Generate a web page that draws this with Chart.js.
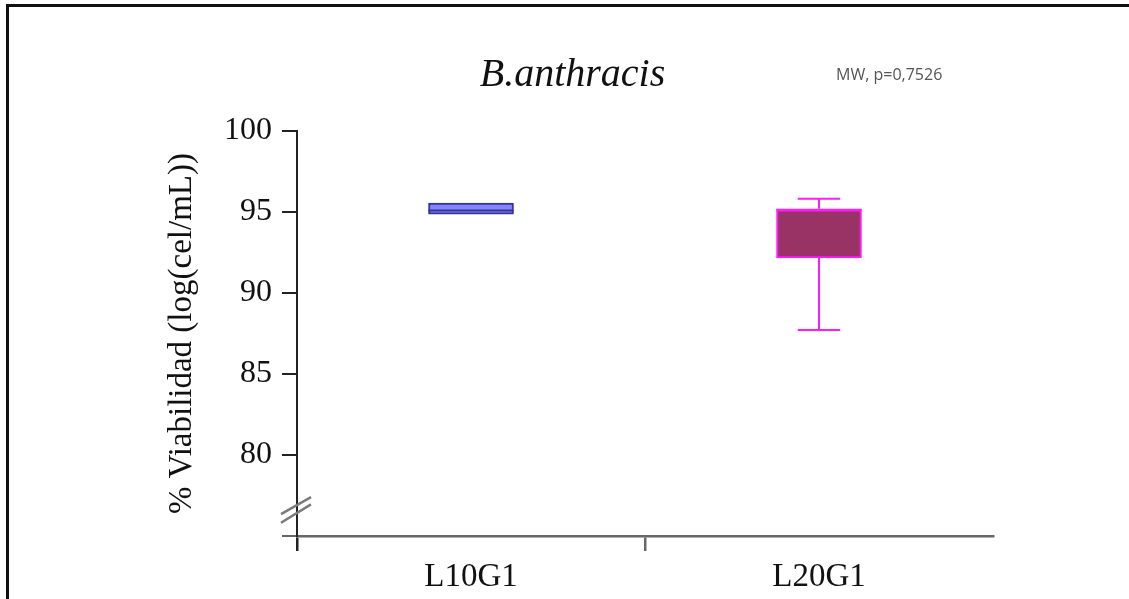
<!DOCTYPE html>
<html>
<head>
<meta charset="utf-8">
<title>B.anthracis</title>
<script src="https://cdn.jsdelivr.net/npm/chart.js@4.4.1/dist/chart.umd.min.js"></script>
<style>
  html, body { margin: 0; padding: 0; background: #fff; overflow: hidden; }
  #frame {
    position: absolute; left: 6px; top: 4px; right: -10px; bottom: -10px;
    border-top: 3px solid #111; border-left: 3px solid #111;
  }
  #wrap { position: absolute; left: 0; top: 0; width: 1129px; height: 599px; }
</style>
</head>
<body>
<div id="frame"></div>
<div id="wrap"><canvas id="boxChart"></canvas></div>
<script>
// groups and box statistics (% viability)
const groups = ['L10G1', 'L20G1'];
const boxMin = [94.86, 87.72];
const boxQ1 = [94.86, 92.16];
const boxMedian = [95.09, 95.10];
const boxQ3 = [95.55, 95.20];
const boxMax = [95.55, 95.82];
const yTicks = [80, 85, 90, 95, 100];
const titleText = 'B.anthracis';
const statText = 'MW, p=0,7526';

const boxFill = ['#8585f7', '#993366'];
const boxEdge = ['#34349e', '#ff1aff'];

const serif = '"Liberation Serif", "Times New Roman", serif';

// whiskers, caps and median lines on top of the floating bars
const whiskerPlugin = {
    id: 'whiskers',
    afterDatasetsDraw(chart) {
        const y = chart.scales.y;
        const meta = chart.getDatasetMeta(0);
        const ctx = chart.ctx;
        ctx.save();
        meta.data.forEach((bar, i) => {
            const half = bar.width / 2;
            const cap = bar.width / 4;
            ctx.strokeStyle = boxEdge[i];
            ctx.lineWidth = 2;
            ctx.beginPath();
            if (boxMax[i] > boxQ3[i]) {
                ctx.moveTo(bar.x, y.getPixelForValue(boxQ3[i]));
                ctx.lineTo(bar.x, y.getPixelForValue(boxMax[i]));
                ctx.moveTo(bar.x - cap, y.getPixelForValue(boxMax[i]));
                ctx.lineTo(bar.x + cap, y.getPixelForValue(boxMax[i]));
            }
            if (boxMin[i] < boxQ1[i]) {
                ctx.moveTo(bar.x, y.getPixelForValue(boxQ1[i]));
                ctx.lineTo(bar.x, y.getPixelForValue(boxMin[i]));
                ctx.moveTo(bar.x - cap, y.getPixelForValue(boxMin[i]));
                ctx.lineTo(bar.x + cap, y.getPixelForValue(boxMin[i]));
            }
            // median
            ctx.moveTo(bar.x - half, y.getPixelForValue(boxMedian[i]));
            ctx.lineTo(bar.x + half, y.getPixelForValue(boxMedian[i]));
            ctx.stroke();
        });
        ctx.restore();
    }
};

// title, test label and the axis break marks
const decorPlugin = {
    id: 'decor',
    afterDraw(chart) {
        const ctx = chart.ctx;
        const y = chart.scales.y;
        const area = chart.chartArea;
        ctx.save();

        ctx.fillStyle = '#111';
        ctx.font = 'italic 40px ' + serif;
        ctx.textAlign = 'center';
        ctx.textBaseline = 'alphabetic';
        ctx.fillText(titleText, chart.width / 2 + 8, 86);

        ctx.fillStyle = '#555';
        ctx.font = '16px "Open Sans", sans-serif';
        ctx.textAlign = 'left';
        ctx.textBaseline = 'middle';
        ctx.fillText(statText, 836, 75);

        // break on the y axis
        const ax = area.left;
        const yb = y.getPixelForValue(76.6);
        ctx.strokeStyle = '#7a7a7a';
        ctx.lineWidth = 2.5;
        ctx.beginPath();
        ctx.moveTo(ax - 16, yb + 4);
        ctx.lineTo(ax + 14, yb - 13);
        ctx.moveTo(ax - 16, yb + 12.7);
        ctx.lineTo(ax + 14, yb - 5.7);
        ctx.stroke();
        ctx.restore();
    }
};

const boxData = groups.map((g, i) => [boxQ1[i], boxQ3[i]]);

new Chart(document.getElementById('boxChart'), {
    type: 'bar',
    data: {
        labels: groups,
        datasets: [{
            data: boxData,
            backgroundColor: boxFill,
            borderColor: boxEdge,
            borderWidth: 2,
            borderSkipped: false,
            barThickness: 85
        }]
    },
    options: {
        responsive: true,
        maintainAspectRatio: false,
        animation: false,
        layout: { padding: { left: 161, right: 136, top: 131, bottom: 13 } },
        plugins: {
            legend: { display: false },
            tooltip: { enabled: false }
        },
        scales: {
            x: {
                afterFit(scale) { scale.height = 50; },
                border: { display: true, color: '#666', width: 2.5 },
                grid: {
                    offset: true,
                    drawOnChartArea: false,
                    tickLength: 15,
                    lineWidth: 2.5,
                    color: (c) => c.type !== 'tick' ? 'rgba(0,0,0,0)' : (c.index === 0 ? '#222' : '#666')
                },
                ticks: {
                    color: '#111',
                    padding: 7,
                    font: { family: serif, size: 33 }
                }
            },
            y: {
                min: 75,
                max: 100,
                afterFit(scale) { scale.width = 136; },
                afterBuildTicks(scale) {
                    scale.ticks = [75].concat(yTicks).map(v => ({ value: v }));
                },
                border: { display: true, color: '#222', width: 2 },
                grid: {
                    drawOnChartArea: false,
                    tickLength: 15,
                    lineWidth: 2,
                    color: (c) => (c.tick && c.tick.value === 75) ? '#666' : '#222'
                },
                ticks: {
                    color: '#111',
                    padding: 10,
                    font: { family: serif, size: 32 },
                    callback: (v) => v === 75 ? '' : v
                },
                title: {
                    display: true,
                    text: '% Viabilidad (log(cel/mL))',
                    color: '#111',
                    font: { family: serif, size: 33 },
                    padding: { top: 2, bottom: 4 }
                }
            }
        }
    },
    plugins: [whiskerPlugin, decorPlugin]
});
</script>
</body>
</html>
